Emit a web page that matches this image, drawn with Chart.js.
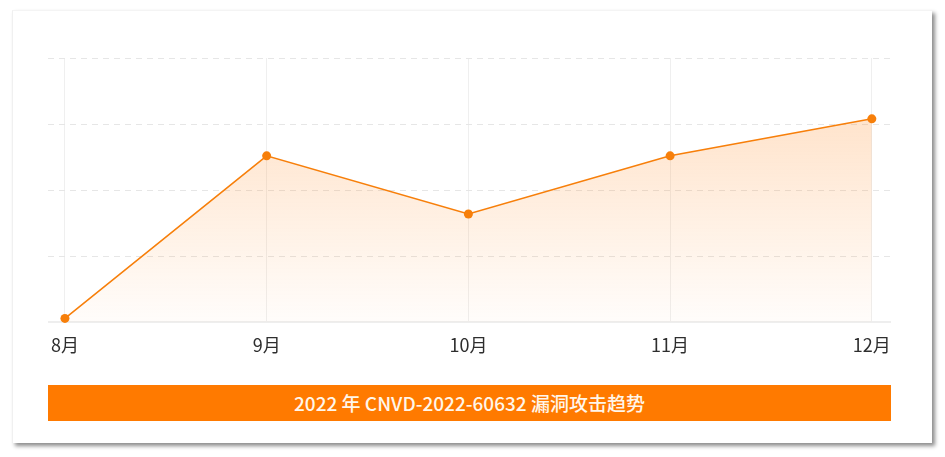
<!DOCTYPE html>
<html>
<head>
<meta charset="utf-8">
<script src="https://cdn.jsdelivr.net/npm/chart.js@4/dist/chart.umd.min.js"></script>
<style>
  html, body { margin: 0; padding: 0; background: #fff; width: 945px; height: 457px; overflow: hidden; }
  #card { position: absolute; left: 12px; top: 10px; width: 919px; height: 432px; background: #fff;
          border-left: 1px solid #f0f0f0; border-top: 1px solid #f4f4f4;
          box-shadow: 3px 3px 4px rgba(0,0,0,0.45); }
  #wrap { position: absolute; left: 48px; top: 50px; width: 843px; height: 306px; }
  #wrap canvas { display: block; }
  #banner { position: absolute; left: 48px; top: 385px; width: 843px; height: 36px; background: #ff7a00;
            color: #fff6ea; font-family: "Noto Sans CJK SC", "Noto Sans", sans-serif; font-size: 19px; font-weight: 500;
            text-align: center; line-height: 36px; }
</style>
</head>
<body>
<div id="card"></div>
<div id="wrap"><canvas id="c" width="843" height="306"></canvas></div>
<div id="banner">2022 年 CNVD-2022-60632 漏洞攻击趋势</div>
<script>
const months = ['8月', '9月', '10月', '11月', '12月'];
const attacks = [3, 126, 82, 126, 154];
const yTicks = [0, 50, 100, 150, 200];

const lineColor = '#f77f0a';

new Chart(document.getElementById('c'), {
  type: 'line',
  data: {
    datasets: [{
      data: attacks.map((v, i) => ({ x: i, y: v })),
      borderColor: lineColor,
      borderWidth: 1.6,
      pointBackgroundColor: lineColor,
      pointBorderWidth: 0,
      pointRadius: 4.5,
      tension: 0,
      fill: 'origin',
      clip: false,
      backgroundColor: (ctx) => {
        const area = ctx.chart.chartArea;
        if (!area) return 'rgba(255,140,40,0.15)';
        const g = ctx.chart.ctx.createLinearGradient(0, area.top, 0, area.bottom);
        g.addColorStop(0, 'rgba(255,140,40,0.30)');
        g.addColorStop(1, 'rgba(255,140,40,0.02)');
        return g;
      }
    }]
  },
  options: {
    responsive: false,
    animation: false,
    layout: { autoPadding: false, padding: { top: 8, left: 0, right: 0, bottom: 0 } },
    plugins: { legend: { display: false }, tooltip: { enabled: false }, title: { display: false } },
    scales: {
      x: {
        type: 'linear',
        min: -0.084,
        max: 4.095,
        afterBuildTicks: (scale) => { scale.ticks = months.map((m, i) => ({ value: i })); },
        ticks: {
          callback: (v) => months[v],
          color: '#2e2e2e',
          padding: 0,
          maxRotation: 0,
          autoSkip: false,
          font: { family: '"Noto Sans CJK SC", "Noto Sans", sans-serif', size: 18 }
        },
        grid: { color: '#efefef', lineWidth: 1, drawTicks: true, tickLength: 12, tickColor: 'rgba(0,0,0,0)' },
        border: { display: true, color: '#eeeeee', width: 2 }
      },
      y: {
        min: 0,
        max: 200,
        afterBuildTicks: (scale) => { scale.ticks = yTicks.map(v => ({ value: v })); },
        ticks: { display: false },
        grid: { color: '#e6e6e6', lineWidth: 1, drawTicks: false },
        border: { display: false, dash: [6, 5] }
      }
    }
  }
});
</script>
</body>
</html>
